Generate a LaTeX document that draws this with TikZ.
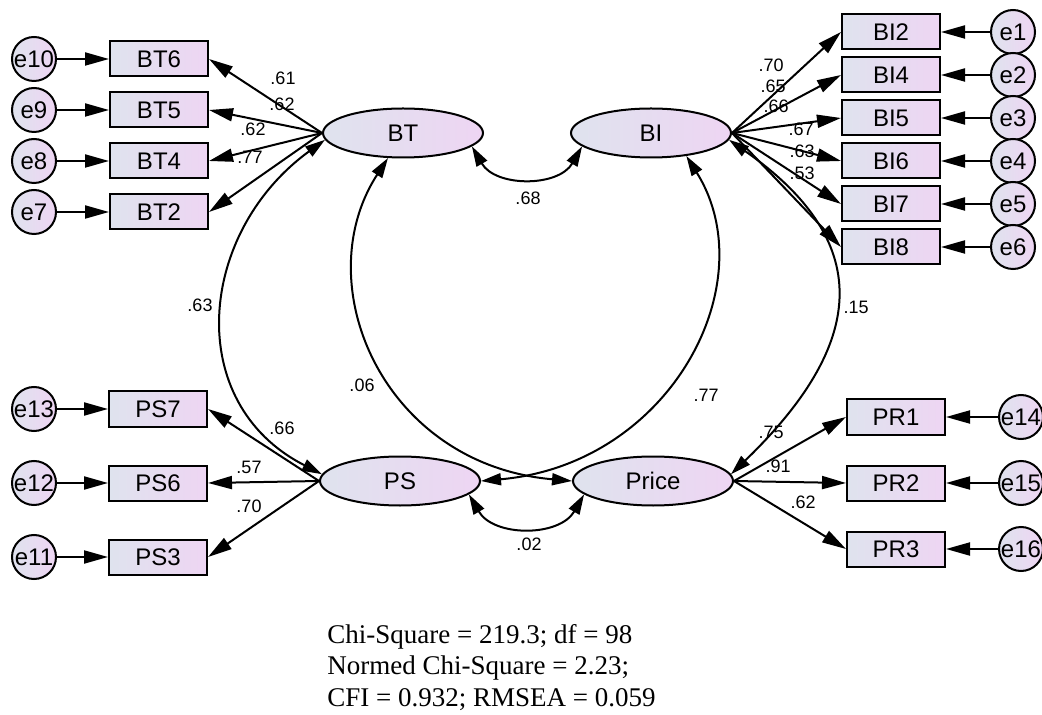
\documentclass[tikz,border=0pt]{standalone}
\usepackage{fontspec}
\setmainfont{Liberation Sans}
\newfontfamily\fitfont{Liberation Serif}
\usepackage{tikz}
\usepackage{xcolor}
\usetikzlibrary{positioning,shapes.geometric,arrows.meta}
\definecolor{semleft}{HTML}{DFE3EE}
\definecolor{semright}{HTML}{EED5F3}

\begin{document}
\begin{tikzpicture}[x=0.5pt,y=-0.5pt,
      font=\fontsize{12}{13}\selectfont,
      obs/.style={draw,line width=1pt,minimum width=49pt,minimum height=17.5pt,inner sep=0pt,left color=semleft,right color=semright},
      lat/.style={draw,ellipse,line width=1pt,minimum width=80pt,minimum height=24.5pt,inner sep=0pt,left color=semleft,right color=semright},
      err/.style={draw,circle,line width=1pt,minimum size=22pt,inner sep=0pt,left color=semleft,right color=semright},
      est/.style={font=\fontsize{9}{10}\selectfont,inner sep=0pt},
      arrow/.style={-{Triangle[length=12pt,width=6.5pt]},line width=1pt},
      cov/.style={{Triangle[length=10pt,width=6pt]}-{Triangle[length=10pt,width=6pt]},line width=1pt}]
    \path[use as bounding box,fill=white] (0,0) rectangle (1042,715);
    % latent factors
    \node[lat] (BT) at (403,133) {BT};
    \node[lat] (BI) at (651,133) {BI};
    \node[lat] (PS) at (400,481) {PS};
    \node[lat] (Price) at (653,481) {Price};
    % BT indicators
    \node[obs] (BT6) at (159,59) {BT6};
    \node[obs,below=7pt of BT6] (BT5) {BT5};
    \node[obs,below=7pt of BT5] (BT4) {BT4};
    \node[obs,below=7pt of BT4] (BT2) {BT2};
    \node[err,left=26pt of BT6] (e10) {e10};
    \node[err,left=26pt of BT5] (e9) {e9};
    \node[err,left=26pt of BT4] (e8) {e8};
    \node[err,left=26pt of BT2] (e7) {e7};
    % BI indicators
    \node[obs] (BI2) at (891,32) {BI2};
    \node[obs,below=3pt of BI2] (BI4) {BI4};
    \node[obs,below=3pt of BI4] (BI5) {BI5};
    \node[obs,below=3pt of BI5] (BI6) {BI6};
    \node[obs,below=3pt of BI6] (BI7) {BI7};
    \node[obs,below=3pt of BI7] (BI8) {BI8};
    \node[err,right=24.5pt of BI2] (e1) {e1};
    \node[err,right=24.5pt of BI4] (e2) {e2};
    \node[err,right=24.5pt of BI5] (e3) {e3};
    \node[err,right=24.5pt of BI6] (e4) {e4};
    \node[err,right=24.5pt of BI7] (e5) {e5};
    \node[err,right=24.5pt of BI8] (e6) {e6};
    % PS indicators
    \node[obs] (PS7) at (158,409) {PS7};
    \node[obs,below=18.5pt of PS7] (PS6) {PS6};
    \node[obs,below=18.5pt of PS6] (PS3) {PS3};
    \node[err,left=25.5pt of PS7] (e13) {e13};
    \node[err,left=25.5pt of PS6] (e12) {e12};
    \node[err,left=25.5pt of PS3] (e11) {e11};
    % Price indicators
    \node[obs] (PR1) at (896,417) {PR1};
    \node[obs,below=14.5pt of PR1] (PR2) {PR2};
    \node[obs,below=14.5pt of PR2] (PR3) {PR3};
    \node[err,right=26pt of PR1] (e14) {e14};
    \node[err,right=26pt of PR2] (e15) {e15};
    \node[err,right=26pt of PR3] (e16) {e16};
    % error terms
    \draw[arrow] (e10)--(BT6);
    \draw[arrow] (e9)--(BT5);
    \draw[arrow] (e8)--(BT4);
    \draw[arrow] (e7)--(BT2);
    \draw[arrow] (e1)--(BI2);
    \draw[arrow] (e2)--(BI4);
    \draw[arrow] (e3)--(BI5);
    \draw[arrow] (e4)--(BI6);
    \draw[arrow] (e5)--(BI7);
    \draw[arrow] (e6)--(BI8);
    \draw[arrow] (e13)--(PS7);
    \draw[arrow] (e12)--(PS6);
    \draw[arrow] (e11)--(PS3);
    \draw[arrow] (e14)--(PR1);
    \draw[arrow] (e15)--(PR2);
    \draw[arrow] (e16)--(PR3);
    % loadings
    \draw[arrow] (BT.west)--(BT6.east);
    \draw[arrow] (BT.west)--(BT5.east);
    \draw[arrow] (BT.west)--(BT4.east);
    \draw[arrow] (BT.west)--(BT2.east);
    \draw[arrow] (BI.east)--(BI2.west);
    \draw[arrow] (BI.east)--(BI4.west);
    \draw[arrow] (BI.east)--(BI5.west);
    \draw[arrow] (BI.east)--(BI6.west);
    \draw[arrow] (BI.east)--(BI7.west);
    \draw[arrow] (BI.east)--(BI8.west);
    \draw[arrow] (PS.west)--(PS7.east);
    \draw[arrow] (PS.west)--(PS6.east);
    \draw[arrow] (PS.west)--(PS3.east);
    \draw[arrow] (Price.east)--(PR1.west);
    \draw[arrow] (Price.east)--(PR2.west);
    \draw[arrow] (Price.east)--(PR3.west);
    % correlations
    \draw[cov] (BT.-11) to[out=-60,in=-120,looseness=1.1] (BI.191);
    \draw[cov] (PS.-11) to[out=-60,in=-120,looseness=1.1] (Price.191);
    \draw[cov] (BT.185) to[out=-144,in=153,looseness=1.2] (PS.175);
    \draw[cov] (BI.-5) to[out=-35,in=44,looseness=1.4] (Price.5);
    \draw[cov] (BT.-121) to[out=-123,in=175,out distance=75pt,in distance=95pt] (Price.180);
    \draw[cov] (BI.-33) to[out=-58,in=5,out distance=75pt,in distance=95pt] (PS.0);
    % estimates
    \node[est] (lBT6) at (283,78) {.61};
    \node[est] (lBT5) at (282,104) {.62};
    \node[est] (lBT4) at (253,129) {.62};
    \node[est] (lBT2) at (250,157) {.77};
    \node[est] (lBI2) at (771,65) {.70};
    \node[est] (lBI4) at (773,86) {.65};
    \node[est] (lBI5) at (776,106) {.66};
    \node[est] (lBI6) at (801,129) {.67};
    \node[est] (lBI7) at (802,151) {.63};
    \node[est] (lBI8) at (802,173) {.53};
    \node[est] (lPS7) at (282,428) {.66};
    \node[est] (lPS6) at (249,467) {.57};
    \node[est] (lPS3) at (249,506) {.70};
    \node[est] (lPR1) at (771,432) {.75};
    \node[est] (lPR2) at (778,466) {.91};
    \node[est] (lPR3) at (803,502) {.62};
    \node[est] (rBTBI) at (528,198) {.68};
    \node[est] (rPSPrice) at (529,544) {.02};
    \node[est] (rBTPS) at (200,305) {.63};
    \node[est] (rBIPrice) at (856,307) {.15};
    \node[est] (rBTPrice) at (362,385) {.06};
    \node[est] (rBIPS) at (706,395) {.77};
    % fit indices
    \node[align=left,anchor=base west,inner sep=0pt,font=\fitfont\fontsize{13.5}{15.7}\selectfont] (fit) at (327,706)
      {Chi-Square = 219.3; df = 98\\Normed Chi-Square = 2.23;\\CFI = 0.932; RMSEA = 0.059};
  \end{tikzpicture}
\end{document}
